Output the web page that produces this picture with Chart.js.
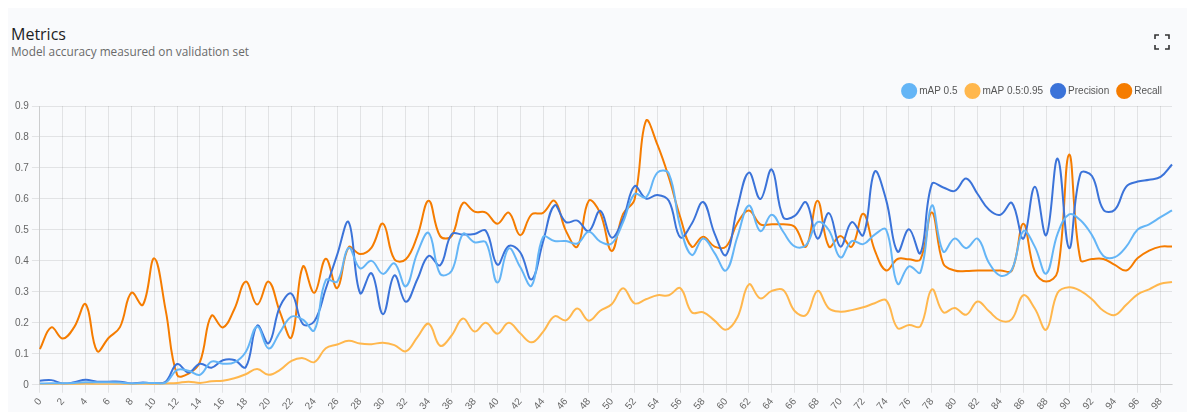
<!DOCTYPE html>
<html>
<head>
<meta charset="utf-8">
<script src="https://cdn.jsdelivr.net/npm/chart.js@4.4.1/dist/chart.umd.min.js"></script>
<style>
  html, body { margin: 0; padding: 0; background: #ffffff; }
  body { width: 1187px; height: 412px; position: relative; overflow: hidden; }
  .card { position: absolute; left: 8px; top: 8px; right: 0; bottom: 0; background: #f9fafc; }
  .title { position: absolute; left: 11px; top: 24px; font-family: "Open Sans", sans-serif; font-weight: 500; font-size: 16px; color: #1e1e24; line-height: 20px; }
  .subtitle { position: absolute; left: 11px; top: 43px; font-family: "Open Sans", sans-serif; font-size: 11.8px; color: #6a6a6a; line-height: 16px; }
  .icon { position: absolute; left: 1154px; top: 34px; width: 16px; height: 16px; }
  .wrap { position: absolute; left: 8px; top: 76px; width: 1179px; height: 339px; }
</style>
</head>
<body>
<div class="card"></div>
<div class="title">Metrics</div>
<div class="subtitle">Model accuracy measured on validation set</div>
<svg class="icon" viewBox="0 0 16 16" fill="none" stroke="#333" stroke-width="1.6">
  <path d="M1 5V1H5M11 1H15V5M15 11V15H11M5 15H1V11"/>
</svg>
<div class="wrap"><canvas id="c"></canvas></div>
<script>
const epochs = Array.from({length: 100}, (_, i) => String(i));

const map50 = [0.004,0.005,0.005,0.006,0.008,0.008,0.008,0.007,0.004,0.006,
  0.006,0.007,0.048,0.045,0.032,0.075,0.068,0.072,0.106,0.188,
  0.117,0.170,0.220,0.210,0.176,0.338,0.333,0.442,0.376,0.400,
  0.358,0.392,0.318,0.425,0.490,0.358,0.367,0.487,0.460,0.460,
  0.330,0.440,0.380,0.320,0.477,0.464,0.464,0.456,0.494,0.462,
  0.456,0.525,0.616,0.605,0.685,0.682,0.510,0.419,0.472,0.425,
  0.369,0.478,0.579,0.496,0.549,0.494,0.447,0.451,0.525,0.499,
  0.411,0.464,0.454,0.485,0.501,0.326,0.382,0.363,0.579,0.430,
  0.472,0.441,0.472,0.393,0.352,0.372,0.496,0.446,0.359,0.488,
  0.550,0.531,0.483,0.416,0.412,0.446,0.501,0.518,0.541,0.563];

const map5095 = [0.002,0.002,0.003,0.002,0.003,0.002,0.002,0.002,0.002,0.003,
  0.002,0.004,0.006,0.010,0.006,0.011,0.013,0.021,0.034,0.051,
  0.032,0.048,0.077,0.086,0.073,0.118,0.130,0.142,0.133,0.131,
  0.136,0.128,0.108,0.153,0.197,0.126,0.159,0.214,0.172,0.200,
  0.165,0.200,0.166,0.137,0.171,0.221,0.208,0.246,0.207,0.239,
  0.260,0.312,0.263,0.276,0.289,0.289,0.312,0.234,0.234,0.207,
  0.178,0.218,0.324,0.279,0.303,0.306,0.238,0.225,0.303,0.246,
  0.236,0.241,0.250,0.263,0.273,0.183,0.193,0.189,0.308,0.234,
  0.248,0.226,0.269,0.237,0.207,0.212,0.289,0.246,0.178,0.297,
  0.315,0.303,0.276,0.239,0.225,0.258,0.292,0.308,0.326,0.332];

const precision = [0.013,0.015,0.004,0.008,0.016,0.010,0.010,0.010,0.004,0.007,
  0.005,0.010,0.067,0.040,0.068,0.055,0.079,0.080,0.057,0.191,
  0.134,0.253,0.294,0.196,0.205,0.310,0.420,0.525,0.296,0.360,
  0.228,0.353,0.268,0.340,0.416,0.386,0.486,0.485,0.487,0.497,
  0.388,0.448,0.428,0.340,0.462,0.579,0.525,0.530,0.496,0.562,
  0.475,0.536,0.641,0.601,0.613,0.594,0.476,0.520,0.590,0.488,
  0.419,0.573,0.685,0.600,0.695,0.541,0.545,0.589,0.472,0.554,
  0.446,0.525,0.483,0.688,0.597,0.430,0.502,0.425,0.648,0.637,
  0.626,0.666,0.616,0.565,0.549,0.587,0.472,0.639,0.483,0.730,
  0.441,0.682,0.674,0.565,0.565,0.640,0.656,0.662,0.671,0.711];

const recall = [0.115,0.185,0.149,0.186,0.260,0.109,0.151,0.186,0.297,0.258,
  0.408,0.240,0.032,0.036,0.074,0.223,0.185,0.244,0.333,0.259,
  0.333,0.234,0.153,0.382,0.297,0.407,0.312,0.444,0.422,0.443,
  0.520,0.405,0.405,0.480,0.594,0.480,0.480,0.587,0.559,0.556,
  0.520,0.556,0.483,0.550,0.555,0.594,0.497,0.446,0.594,0.554,
  0.432,0.552,0.598,0.852,0.775,0.669,0.541,0.446,0.478,0.446,
  0.446,0.522,0.563,0.518,0.518,0.518,0.510,0.446,0.594,0.446,
  0.480,0.446,0.552,0.435,0.369,0.406,0.405,0.405,0.556,0.391,
  0.369,0.367,0.369,0.369,0.369,0.369,0.520,0.366,0.333,0.366,
  0.743,0.403,0.406,0.406,0.387,0.369,0.409,0.433,0.446,0.446];

const yTicks = [0, 0.1, 0.2, 0.3, 0.4, 0.5, 0.6, 0.7, 0.8, 0.9];

const FONT = 'Arial, "Liberation Sans", sans-serif';
const GRID = 'rgba(0,0,0,0.09)';
function ds(label, data, color) {
  return { label, data, borderColor: color, backgroundColor: color, borderWidth: 2,
    pointRadius: 0, pointHoverRadius: 0, tension: 0.4, fill: false };
}

new Chart(document.getElementById('c'), {
  type: 'line',
  data: {
    labels: epochs,
    datasets: [
      ds('mAP 0.5', map50, '#64b5f6'),
      ds('mAP 0.5:0.95', map5095, '#ffb74d'),
      ds('Precision', precision, '#3b73d9'),
      ds('Recall', recall, '#f57c00')
    ]
  },
  options: {
    responsive: true,
    maintainAspectRatio: false,
    animation: false,
    layout: { padding: { left: 4, right: 15, top: 0, bottom: 0 } },
    plugins: {
      legend: {
        position: 'top', align: 'end',
        labels: { usePointStyle: true, pointStyle: 'circle', font: { size: 10, family: FONT }, color: '#555', padding: 10 }
      },
      tooltip: { enabled: false }
    },
    scales: {
      x: {
        ticks: { font: { size: 10, family: FONT }, color: '#666', maxRotation: 50, minRotation: 50, autoSkip: false,
          callback: (v, i) => (i % 2 === 0 ? epochs[i] : '') },
        grid: { color: (ctx) => (ctx.tick && ctx.tick.value % 2 === 0 ? GRID : 'rgba(0,0,0,0)') }
      },
      y: {
        min: yTicks[0], max: yTicks[yTicks.length - 1],
        afterBuildTicks: (axis) => { axis.ticks = yTicks.map(v => ({ value: v })); },
        ticks: { font: { size: 10, family: FONT }, color: '#666' },
        grid: { color: GRID }
      }
    }
  }
});
</script>
</body>
</html>
